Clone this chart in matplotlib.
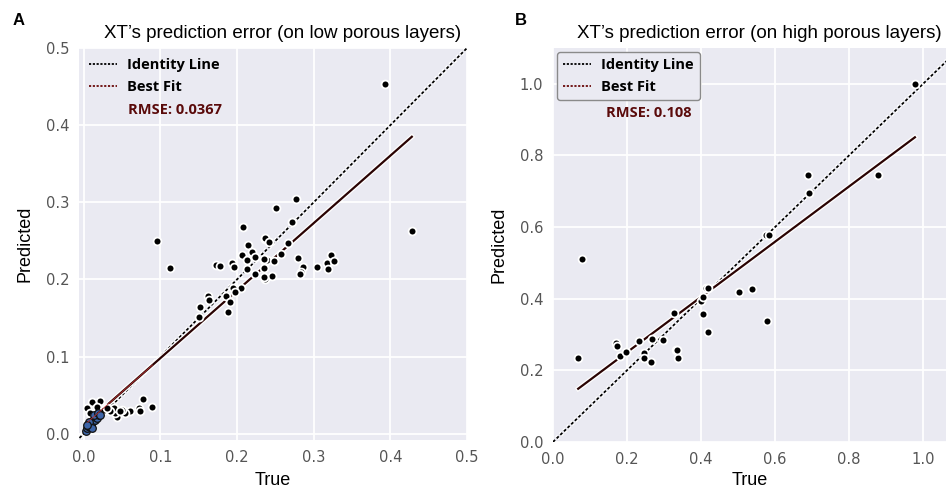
import matplotlib
matplotlib.use("Agg")
import matplotlib.pyplot as plt
import matplotlib.patheffects as pe
from matplotlib.lines import Line2D
import numpy as np

# ---------------- data ----------------
# Panel A: low porous layers
a_true = [0.393, 0.428, 0.0957, 0.113, 0.208, 0.236, 0.215, 0.206, 0.220, 0.213,
          0.224, 0.235, 0.239, 0.173, 0.178, 0.193, 0.196, 0.213, 0.223, 0.237,
          0.205, 0.195, 0.197, 0.186, 0.191, 0.188, 0.162, 0.163, 0.152, 0.151,
          0.277, 0.251, 0.272, 0.236, 0.242, 0.266, 0.258, 0.248, 0.235, 0.235,
          0.246, 0.235, 0.280, 0.286, 0.283, 0.282, 0.304, 0.318, 0.322, 0.327,
          0.319,
          0.089, 0.077, 0.072, 0.074, 0.061, 0.054, 0.050, 0.044, 0.041, 0.039,
          0.035, 0.022, 0.011, 0.005, 0.017, 0.026, 0.0085, 0.013, 0.030, 0.047]
a_pred = [0.453, 0.263, 0.250, 0.215, 0.268, 0.253, 0.245, 0.232, 0.235, 0.225,
          0.229, 0.225, 0.225, 0.219, 0.218, 0.222, 0.216, 0.213, 0.207, 0.201,
          0.189, 0.189, 0.184, 0.179, 0.171, 0.158, 0.179, 0.174, 0.164, 0.152,
          0.304, 0.293, 0.274, 0.254, 0.248, 0.247, 0.233, 0.224, 0.226, 0.215,
          0.204, 0.203, 0.228, 0.216, 0.210, 0.207, 0.216, 0.222, 0.232, 0.224,
          0.214,
          0.0346, 0.045, 0.033, 0.029, 0.029, 0.027, 0.031, 0.022, 0.027, 0.033,
          0.029, 0.042, 0.041, 0.034, 0.035, 0.031, 0.027, 0.022, 0.034, 0.030]
# dense cluster near the origin (blue-filled markers)
a_dense_true = [0.003, 0.005, 0.006, 0.008, 0.009, 0.010, 0.012, 0.013, 0.015, 0.016,
                0.018, 0.020, 0.007, 0.011, 0.014, 0.004, 0.019, 0.022]
a_dense_pred = [0.004, 0.007, 0.010, 0.009, 0.013, 0.012, 0.016, 0.019, 0.018, 0.022,
                0.021, 0.025, 0.015, 0.008, 0.024, 0.012, 0.027, 0.024]
a_fit_intercept, a_fit_slope = 0.0105, 0.875
a_rmse = "RMSE: 0.0367"

# Panel B: high porous layers
b_true = [0.078, 0.068, 0.169, 0.173, 0.182, 0.198, 0.231, 0.246, 0.245, 0.266,
          0.268, 0.297, 0.326, 0.331, 0.338, 0.401, 0.405, 0.413, 0.420, 0.405,
          0.418, 0.502, 0.539, 0.688, 0.693, 0.575, 0.584, 0.877, 0.978, 0.577,
          0.336]
b_pred = [0.510, 0.234, 0.277, 0.268, 0.240, 0.252, 0.283, 0.247, 0.235, 0.224,
          0.286, 0.284, 0.360, 0.256, 0.233, 0.393, 0.405, 0.430, 0.430, 0.357,
          0.308, 0.418, 0.428, 0.746, 0.694, 0.578, 0.578, 0.744, 0.999, 0.337,
          0.258]
b_fit_intercept, b_fit_slope = 0.096, 0.7717
b_rmse = "RMSE: 0.108"

titles = ["XT\u2019s prediction error (on low porous layers)",
          "XT\u2019s prediction error (on high porous layers)"]
panel_letters = ["A", "B"]
a_ticks = [0.0, 0.1, 0.2, 0.3, 0.4, 0.5]
b_ticks = [0.0, 0.2, 0.4, 0.6, 0.8, 1.0]

# ---------------- style ----------------
BG = "#eaeaf2"
TICK_C = "#555555"
FIT_C = "#2a0303"
RMSE_C = "#5a0a0a"
LEG_FONT = dict(family="Open Sans", weight="bold", size=10.5)

fig = plt.figure(figsize=(9.46, 4.91), dpi=100)
axA = fig.add_axes([0.0835, 0.1039, 0.4102, 0.7983])
axB = fig.add_axes([0.5846, 0.1000, 0.4154, 0.8022])

halo = [pe.Stroke(linewidth=3.4, foreground="white"), pe.Normal()]


def style(ax, ticks, xlim, ylim, xlabelpad):
    ax.set_facecolor(BG)
    for s in ax.spines.values():
        s.set_visible(False)
    ax.set_xticks(ticks)
    ax.set_yticks(ticks)
    ax.set_xlim(*xlim)
    ax.set_ylim(*ylim)
    ax.grid(True, color="white", linewidth=1.3)
    ax.set_axisbelow(True)
    ax.tick_params(length=0, labelsize=10.6, labelcolor=TICK_C)
    ax.tick_params(axis="x", pad=7)
    ax.tick_params(axis="y", pad=7)
    for lab in ax.get_xticklabels() + ax.get_yticklabels():
        lab.set_family("DejaVu Sans")
    ax.set_xlabel("True", family="Liberation Sans", fontsize=13, labelpad=xlabelpad)
    ax.set_ylabel("Predicted", family="Liberation Sans", fontsize=13, labelpad=9)


def draw(ax, xt, yp, intercept, slope, ident_range, extra=None):
    xs = np.array([min(xt), max(xt)])
    ax.plot(ident_range, ident_range, color="black", linestyle=(0, (1.6, 1.2)),
            linewidth=1.3, path_effects=halo, zorder=3)
    ax.plot(xs, intercept + slope * xs, color=FIT_C, linewidth=1.6,
            path_effects=halo, zorder=3)
    ax.scatter(xt, yp, s=32, color="black", edgecolors="white",
               linewidths=1.3, zorder=4)
    if extra is not None:
        ax.scatter(extra[0], extra[1], s=30, color="#3d64a8",
                   edgecolors="#111111", linewidths=0.9, zorder=4)
        ax.plot([xs[0], 0.09], [intercept + slope * xs[0], intercept + slope * 0.09],
                color="#b03030", linewidth=0.6, zorder=5)


style(axA, a_ticks, (-0.006, 0.5), (-0.008, 0.5), 5)
draw(axA, a_true, a_pred, a_fit_intercept, a_fit_slope, [-0.01, 0.51],
     extra=(a_dense_true, a_dense_pred))

style(axB, b_ticks, (0.0, 1.062), (0.0, 1.1), 4)
draw(axB, b_true, b_pred, b_fit_intercept, b_fit_slope, [0.0, 1.2])

handles = [Line2D([], [], color="black", linestyle=(0, (1.2, 0.9)), linewidth=1.3),
           Line2D([], [], color="#6a0a0a", linestyle=(0, (1.2, 0.9)), linewidth=1.3)]
labels = ["Identity Line", "Best Fit"]

legA = axA.legend(handles, labels, loc="upper left", frameon=False, prop=LEG_FONT,
                  handlelength=1.9, handletextpad=0.7, borderaxespad=0.3,
                  labelspacing=0.55)
axA.text(0.126, 0.842, a_rmse, transform=axA.transAxes, color=RMSE_C,
         fontsize=10.5, family="Open Sans", weight="bold", va="center")

legB = axB.legend(handles, labels, loc="upper left", frameon=True, prop=LEG_FONT,
                  handlelength=1.9, handletextpad=0.7, borderaxespad=0.3,
                  labelspacing=0.55, fancybox=True)
legB.get_frame().set_facecolor(BG)
legB.get_frame().set_edgecolor("#8a8a8a")
legB.get_frame().set_alpha(1)
axB.text(0.135, 0.835, b_rmse, transform=axB.transAxes, color=RMSE_C,
         fontsize=10.5, family="Open Sans", weight="bold", va="center")

for ax, t in zip([axA, axB], titles):
    ax.set_title(t, family="Liberation Sans", fontsize=13.5, pad=7, x=0.524)

fig.text(0.013, 0.958, panel_letters[0], family="Liberation Sans", weight="bold",
         fontsize=12, va="center")
fig.text(0.544, 0.958, panel_letters[1], family="Liberation Sans", weight="bold",
         fontsize=12, va="center")

fig.savefig("out.png", dpi=100)
